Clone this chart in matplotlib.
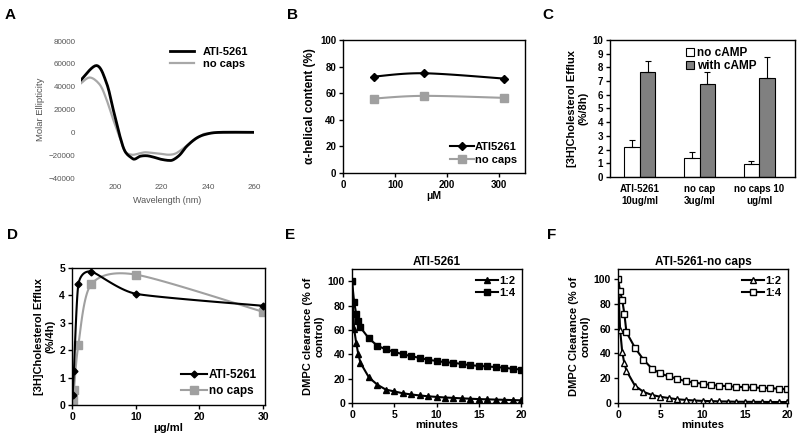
import numpy as np
from matplotlib import pyplot as plt
from matplotlib.patches import Patch

plt.rcParams['font.family'] = ['Liberation Sans', 'DejaVu Sans']
plt.rcParams['font.weight'] = 'bold'
plt.rcParams['axes.labelweight'] = 'bold'

# panel A - CD spectra
wl_ati = [185, 191.8, 196.1, 199.0, 201.9, 204.1, 207.0, 208.4, 210.6, 213.5, 216.4,
          219.2, 222.9, 225.0, 227.9, 230.8, 235.1, 239.5, 245.3, 260]
me_ati = [45900, 58500, 43000, 19700, -3600, -16700, -22500, -23400, -21000, -20500, -21700,
          -23400, -24600, -24000, -19600, -12300, -5000, -1500, 0, 0]
wl_nocaps = [185, 188.9, 193.2, 196.1, 199.0, 201.9, 204.1, 207.0, 209.9, 212.7, 215.6,
             219.2, 222.9, 225.8, 228.6, 232.3, 236.6, 240.9, 260]
me_nocaps = [43000, 48000, 41600, 28500, 11000, -5000, -16700, -19600, -18700, -17500, -18000,
             -18700, -19600, -18700, -15200, -9400, -3600, -700, 0]

# panel B - helical content
conc_b = [60, 155, 310]
helix_ati = [72.5, 75, 71]
helix_nocaps = [56, 58, 56.5]

# panel C - efflux with/without cAMP
groups_c = ["ATI-5261\n10ug/ml", "no cap\n3ug/ml", "no caps 10\nug/ml"]
no_camp = [2.2, 1.4, 0.97]
no_camp_err = [0.5, 0.42, 0.22]
with_camp = [7.68, 6.8, 7.2]
with_camp_err = [0.8, 0.85, 1.58]

# panel D - dose response
conc_d = [0.1, 0.3, 1, 3, 10, 30]
efflux_ati = [0.35, 1.25, 4.4, 4.87, 4.06, 3.62]
efflux_nocaps = [0.2, 0.55, 2.2, 4.4, 4.76, 3.4]

# panels E, F - DMPC clearance
minutes = [0, 0.25, 0.5, 0.75, 1] + list(range(2, 21))
e_12 = [100, 61, 49, 40, 33, 21, 15, 11, 9.5, 8, 7, 6.2, 5.5, 5, 4.5, 4.2, 3.8, 3.5,
        3.2, 3, 2.8, 2.6, 2.4, 2.2]
e_14 = [100, 83, 73, 67, 62, 53, 47, 44, 42, 40, 38.5, 37, 35.5, 34.5, 33.5, 33, 32, 31,
        30.5, 30, 29.5, 29, 28, 27.5]
f_12 = [100, 59, 41, 32, 26, 14, 9, 6.5, 5, 4, 3, 2.5, 2, 1.7, 1.5, 1.3, 1.2, 1, 1,
        0.9, 0.9, 0.8, 0.8, 0.8]
f_14 = [100, 90, 83, 72, 57, 44.6, 35, 27.8, 23.8, 21.5, 19.5, 17.5, 16.5, 15.5, 14.5,
        14, 13.5, 13, 12.8, 12.5, 12.2, 12, 11.5, 11]


def smooth(x, y, xr, yr, n=20, tension=1.0):
    # cubic hermite through the points (catmull-rom tangents), axis-normalised space
    p = np.column_stack([np.asarray(x, float) / xr, np.asarray(y, float) / yr])
    p = np.vstack([p[0], p, p[-1]])
    out = []
    t = np.linspace(0, 1, n)[:, None]
    h00 = 2 * t ** 3 - 3 * t ** 2 + 1
    h10 = t ** 3 - 2 * t ** 2 + t
    h01 = -2 * t ** 3 + 3 * t ** 2
    h11 = t ** 3 - t ** 2
    for i in range(1, len(p) - 2):
        p0, p1, p2, p3 = p[i - 1], p[i], p[i + 1], p[i + 2]
        m1 = tension * (p2 - p0) / 2
        m2 = tension * (p3 - p1) / 2
        out.append(h00 * p1 + h10 * m1 + h01 * p2 + h11 * m2)
    out = np.vstack(out)
    return out[:, 0] * xr, out[:, 1] * yr


fig = plt.figure(figsize=(8, 4.48), dpi=100)


def add_ax(l, r, t, b):
    return fig.add_axes([l / 800, 1 - b / 448, (r - l) / 800, (b - t) / 448])


def style(ax, size=6.5):
    ax.tick_params(direction='out', length=3, width=1, labelsize=size, pad=2)
    for s in ax.spines.values():
        s.set_linewidth(1)


def letter(x, y, s):
    fig.text(x / 800, 1 - y / 448, s, fontsize=11, fontweight='bold', ha='center', va='center')


# A
ax = add_ax(81, 254, 41, 178)
xs, ys = smooth(wl_nocaps, me_nocaps, 75, 120000, 10)
ax.plot(xs, ys, color='#a8a8a8', lw=1.6, label='no caps')
xs, ys = smooth(wl_ati, me_ati, 75, 120000, 10)
ax.plot(xs, ys, color='black', lw=2, label='ATI-5261')
ax.set_xlim(185, 260)
ax.set_ylim(-40000, 80000)
ax.set_xticks([200, 220, 240, 260])
ax.set_yticks(range(-40000, 80001, 20000))
for s in ax.spines.values():
    s.set_visible(False)
ax.tick_params(length=0, labelsize=5.8, labelcolor='#555555', pad=4)
for lb in ax.get_xticklabels() + ax.get_yticklabels():
    lb.set_fontweight('normal')
ax.set_xlabel("Wavelength (nm)", fontsize=6.5, color='#555555', fontweight='normal', labelpad=4)
ax.set_ylabel("Molar Ellipticity", fontsize=6.8, color='#555555', fontweight='normal', labelpad=3)
h, l = ax.get_legend_handles_labels()
ax.legend(h[::-1], l[::-1], loc='upper right', frameon=False, fontsize=8, handlelength=2.2,
          borderaxespad=0.1, labelspacing=0.2)
letter(10, 15, 'A')

# B
ax = add_ax(343, 525, 40, 173)
xs, ys = smooth(conc_b, helix_ati, 350, 100)
ax.plot(xs, ys, color='black', lw=1.5)
ax.plot(conc_b, helix_ati, 'D', color='black', ms=4)
xs, ys = smooth(conc_b, helix_nocaps, 350, 100)
ax.plot(xs, ys, color='#a0a0a0', lw=1.5)
ax.plot(conc_b, helix_nocaps, 's', color='#a0a0a0', ms=6)
ax.plot([], [], '-D', color='black', ms=4, lw=1.5, label='ATI5261')
ax.plot([], [], '-s', color='#a0a0a0', ms=6, lw=1.5, label='no caps')
ax.set_xlim(0, 350)
ax.set_ylim(0, 100)
ax.set_xticks([0, 100, 200, 300])
ax.set_yticks(range(0, 101, 20))
style(ax, 7)
ax.set_xlabel("\u03bcM", fontsize=7.5, labelpad=1)
ax.set_ylabel("\u03b1-helical content (%)", fontsize=8.5, labelpad=3)
ax.legend(loc='lower right', frameon=False, fontsize=8, handlelength=2.2,
          handletextpad=0.1, borderaxespad=0.3, labelspacing=0.3)
letter(293, 15, 'B')

# C
ax = add_ax(610, 795, 40, 177)
x = np.arange(len(groups_c))
w = 0.26
ax.bar(x - w / 2, no_camp, w, color='white', edgecolor='black', lw=0.8)
ax.bar(x + w / 2, with_camp, w, color='#808080', edgecolor='black', lw=0.8)
ax.errorbar(x - w / 2, no_camp, yerr=[np.zeros(3), no_camp_err], fmt='none', ecolor='black',
            elinewidth=0.8, capsize=2.5, capthick=0.8)
ax.errorbar(x + w / 2, with_camp, yerr=[np.zeros(3), with_camp_err], fmt='none', ecolor='black',
            elinewidth=0.8, capsize=2.5, capthick=0.8)
ax.set_xlim(-0.5, 2.6)
ax.set_ylim(0, 10)
ax.set_yticks(range(0, 11))
ax.set_xticks(x)
ax.set_xticklabels(groups_c)
style(ax, 7)
ax.tick_params(axis='x', length=0, pad=5)
ax.set_ylabel("[3H]Cholesterol Efflux\n(%/8h)", fontsize=8, labelpad=3)
ax.legend([Patch(facecolor='white', edgecolor='black', lw=0.8),
           Patch(facecolor='#808080', edgecolor='black', lw=0.8)],
          ['no cAMP', 'with cAMP'], loc='upper center', bbox_to_anchor=(0.6, 1.0),
          frameon=False, fontsize=8.5, handlelength=0.7, handleheight=0.7,
          handletextpad=0.2, labelspacing=0.1, borderaxespad=0.2)
letter(548, 15, 'C')

# D
ax = add_ax(72, 265, 268, 405)
xs, ys = smooth(conc_d, efflux_ati, 30, 5, tension=0.6)
ax.plot(xs, ys, color='black', lw=1.5, zorder=3)
ax.plot(conc_d, efflux_ati, 'D', color='black', ms=3.5, zorder=3)
xs, ys = smooth(conc_d, efflux_nocaps, 30, 5, tension=0.8)
ax.plot(xs, ys, color='#a0a0a0', lw=1.5)
ax.plot(conc_d, efflux_nocaps, 's', color='#a0a0a0', ms=6)
ax.plot([], [], '-D', color='black', ms=3.5, lw=1.5, label='ATI-5261')
ax.plot([], [], '-s', color='#a0a0a0', ms=6, lw=1.5, label='no caps')
ax.set_xlim(0, 30.3)
ax.set_ylim(0, 5)
ax.set_xticks([0, 10, 20, 30])
ax.set_yticks(range(0, 6))
style(ax, 7.5)
ax.set_xlabel("\u03bcg/ml", fontsize=8, labelpad=1)
ax.set_ylabel("[3H]Cholesterol Efflux\n(%/4h)", fontsize=8, labelpad=3)
ax.legend(loc='lower right', frameon=False, fontsize=8.5, handlelength=2.2,
          handletextpad=0.1, borderaxespad=0.3, labelspacing=0.3)
letter(12, 235, 'D')

# E
ax = add_ax(352, 522, 269, 403)
ax.plot(minutes, e_12, '-^', color='black', ms=4.5, lw=1.5, label='1:2')
ax.plot(minutes, e_14, '-s', color='black', ms=5, lw=1.5, label='1:4')
ax.set_xlim(0, 20.1)
ax.set_ylim(0, 110)
ax.set_xticks([0, 5, 10, 15, 20])
ax.set_yticks(range(0, 101, 20))
style(ax, 7.5)
ax.set_title("ATI-5261", fontsize=8.5, fontweight='bold', pad=3)
ax.set_xlabel("minutes", fontsize=8, labelpad=0)
ax.set_ylabel("DMPC clearance (% of\ncontrol)", fontsize=8, labelpad=2)
ax.legend(loc='upper right', frameon=False, fontsize=8, handlelength=2.0,
          handletextpad=0.1, borderaxespad=0.2, labelspacing=0.2)
letter(290, 235, 'E')

# F
ax = add_ax(618, 788, 269, 403)
ax.plot(minutes, f_12, '-^', color='black', mfc='white', ms=4.5, lw=1.5, mew=1, label='1:2')
ax.plot(minutes, f_14, '-s', color='black', mfc='white', ms=5, lw=1.5, mew=1, label='1:4')
ax.set_xlim(0, 20.1)
ax.set_ylim(0, 108)
ax.set_xticks([0, 5, 10, 15, 20])
ax.set_yticks(range(0, 101, 20))
style(ax, 7.5)
ax.set_title("ATI-5261-no caps", fontsize=8.5, fontweight='bold', pad=3)
ax.set_xlabel("minutes", fontsize=8, labelpad=0)
ax.set_ylabel("DMPC Clearance (% of\ncontrol)", fontsize=8, labelpad=2)
ax.legend(loc='upper right', frameon=False, fontsize=8, handlelength=2.0,
          handletextpad=0.1, borderaxespad=0.2, labelspacing=0.2)
letter(552, 235, 'F')

fig.savefig("out.png", dpi=100)
